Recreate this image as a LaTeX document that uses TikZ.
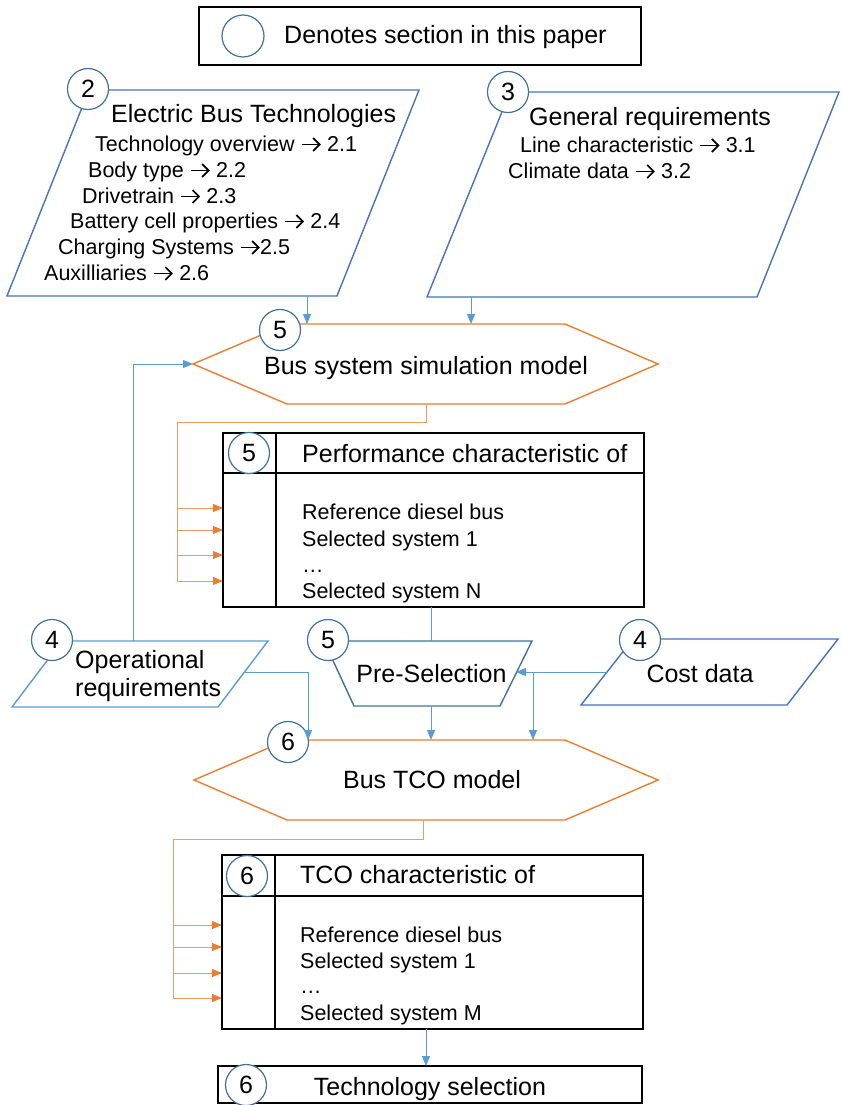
\documentclass[tikz,border=0pt]{standalone}
\usepackage{fontspec}
\setmainfont{Liberation Sans}
\usetikzlibrary{arrows.meta}
\definecolor{cOr}{HTML}{ED7D31}
\definecolor{cOrL}{HTML}{F29A60}
\definecolor{cBlue}{HTML}{4472C4}
\definecolor{cLBlue}{HTML}{5B9BD5}
\definecolor{cCirc}{HTML}{41719C}
\newcommand{\fsA}{\fontsize{25}{30}\selectfont}
\newcommand{\fsB}{\fontsize{21.5}{26}\selectfont}
\newcommand{\rarr}{\tikz[x=1pt,y=1pt,baseline=0pt]{\path (0,0) rectangle (20,13);\draw[line width=1.7pt] (0.5,6.5)--(18,6.5);\draw[line width=1.7pt,line join=miter,line cap=butt] (12,13)--(18.5,6.5)--(12,0);}}
\begin{document}
\begin{tikzpicture}[x=1pt,y=-1pt,
  secnum/.style={circle,draw=cCirc,fill=white,line width=1.2pt,minimum size=41pt,inner sep=0pt,font=\fsA},
  big/.style={inner sep=0pt,anchor=base west,font=\fsA},
  bigc/.style={inner sep=0pt,anchor=base,font=\fsA},
  small/.style={inner sep=0pt,anchor=base west,font=\fsB},
  shapeB/.style={draw=cBlue,line width=1.4pt,line join=miter},
  shapeL/.style={draw=cLBlue,line width=1.4pt,line join=miter},
  shapeD/.style={draw=cCirc,line width=1.4pt,line join=miter},
  hexo/.style={draw=cOr,line width=1.4pt,line join=miter},
  conn/.style={draw=cLBlue,line width=1pt,-{Triangle[length=10pt,width=8pt]}},
  plainconn/.style={draw=cLBlue,line width=1pt},
  oline/.style={draw=cOrL,line width=1pt},
  oarr/.style={draw=cOrL,line width=1pt,-{Triangle[length=10pt,width=8pt,color=cOr,fill=cOr]}},
  boxb/.style={draw=black,line width=1.3pt,inner sep=0pt}
]
\useasboundingbox (0,0) rectangle (842,1105);

% legend
\node[boxb,minimum width=442pt,minimum height=58pt] (legend) at (420,36) {};
\node[secnum,minimum size=42pt] (legcirc) at (243,36) {};
\node[big] (legtext) at (284,44) {Denotes section in this paper};

% Electric bus technologies
\draw[shapeB] (89,90) -- (419,90) -- (337,296) -- (7,296) -- cycle;
\coordinate (ebtout) at (307,296);
\node[big] (ebt0) at (111,123) {Electric Bus Technologies};
\node[small] (ebt1) at (95,151) {Technology overview \rarr{} 2.1};
\node[small] (ebt2) at (88,177) {Body type \rarr{} 2.2};
\node[small] (ebt3) at (82,203) {Drivetrain \rarr{} 2.3};
\node[small] (ebt4) at (70,228) {Battery cell properties \rarr{} 2.4};
\node[small] (ebt5) at (58,254) {Charging Systems \rarr{}2.5};
\node[small] (ebt6) at (44,280) {Auxilliaries \rarr{} 2.6};
\node[secnum] (s2) at (88,89) {2};

% General requirements
\draw[shapeB] (510,92) -- (839,92) -- (757,297) -- (427,297) -- cycle;
\coordinate (genout) at (471,297);
\node[big] (gen0) at (529,125) {General requirements};
\node[small] (gen1) at (520,152) {Line characteristic \rarr{} 3.1};
\node[small] (gen2) at (508,178) {Climate data \rarr{} 3.2};
\node[secnum] (s3) at (508,92) {3};

% Hexagon 1
\draw[hexo] (193,364) -- (287,324) -- (565,324) -- (658,364) -- (565,404) -- (287,404) -- cycle;
\coordinate (h1in1) at (307,324);
\coordinate (h1in2) at (471,324);
\coordinate (h1left) at (193,364);
\coordinate (h1out) at (426,404);
\node[bigc] (h1text) at (426,374) {Bus system simulation model};
\node[secnum] (s5a) at (280,330) {5};
\draw[conn] (ebtout) -- (h1in1);
\draw[conn] (genout) -- (h1in2);

% orange connector 1
\coordinate (o1a) at (177,422);
\coordinate (o1b) at (177,581);
\draw[oline] (h1out) |- (o1a) -- (o1b);
\foreach \y/\n in {508/1,530/2,555/3,581/4}{
  \coordinate (pin\n) at (223,\y);
  \draw[oarr] (o1a |- pin\n) -- (pin\n);
}

% Performance box
\node[boxb,minimum width=421pt,minimum height=174pt] (perf) at (433.5,520) {};
\draw[boxb] (223,473) -- (644,473);
\draw[boxb] (276,433) -- (276,607);
\node[secnum] (s5b) at (249,453) {5};
\node[big] (perfh) at (302,462) {Performance characteristic of};
\node[small] (perf1) at (302,519) {Reference diesel bus};
\node[small] (perf2) at (302,546) {Selected system 1};
\node[small] (perf3) at (302,572) {…};
\node[small] (perf4) at (302,598) {Selected system N};
\coordinate (perfout) at (431,607);

% Operational requirements
\draw[shapeL] (62,641) -- (268,641) -- (218,707) -- (12,707) -- cycle;
\node[big] (op1) at (75,668) {Operational};
\node[big] (op2) at (75,696) {requirements};
\node[secnum] (s4a) at (52,640) {4};
\coordinate (optop) at (133,641);
\coordinate (opright) at (245,672);
\draw[conn] (optop) |- (h1left);

% Pre-Selection
\draw[shapeD] (324,641) -- (532,641) -- (500,706) -- (354,706) -- cycle;
\node[bigc] (pstext) at (431.5,682) {Pre-Selection};
\node[secnum] (s5c) at (328,640) {5};
\coordinate (psin) at (431,641);
\coordinate (psright) at (516,672);
\coordinate (psout) at (431,706);
\draw[plainconn] (perfout) -- (psin);

% Cost data
\draw[shapeB] (633,639) -- (838,639) -- (787,705) -- (581,705) -- cycle;
\node[bigc] (costtext) at (700,682) {Cost data};
\node[secnum] (s4b) at (640,640) {4};
\coordinate (costleft) at (607,672);
\coordinate (branch) at (533,672);

% Hexagon 2
\draw[hexo] (194,780) -- (287,740) -- (565,740) -- (658,780) -- (565,820) -- (287,820) -- cycle;
\coordinate (h2in1) at (308,740);
\coordinate (h2in2) at (431,740);
\coordinate (h2in3) at (533,740);
\coordinate (h2out) at (423,820);
\node[bigc] (h2text) at (432,788) {Bus TCO model};
\node[secnum] (s6a) at (288,742) {6};

\draw[conn] (costleft) -- (psright);
\draw[conn] (branch) -- (h2in3);
\draw[conn] (opright) -| (h2in1);
\draw[conn] (psout) -- (h2in2);

% orange connector 2
\coordinate (o2a) at (173,839);
\coordinate (o2b) at (173,998);
\draw[oline] (h2out) |- (o2a) -- (o2b);
\foreach \y/\n in {925/1,947/2,973/3,998/4}{
  \coordinate (qin\n) at (222,\y);
  \draw[oarr] (o2a |- qin\n) -- (qin\n);
}

% TCO box
\node[boxb,minimum width=421pt,minimum height=174pt] (tco) at (432.5,942) {};
\draw[boxb] (222,896) -- (643,896);
\draw[boxb] (275,855) -- (275,1029);
\node[secnum] (s6b) at (247,876) {6};
\node[big] (tcoh) at (300,883) {TCO characteristic of};
\node[small] (tco1) at (300,942) {Reference diesel bus};
\node[small] (tco2) at (300,968) {Selected system 1};
\node[small] (tco3) at (300,993) {…};
\node[small] (tco4) at (300,1020) {Selected system M};
\coordinate (tcoout) at (426,1029);

% Technology selection
\node[boxb,minimum width=424pt,minimum height=37pt] (tech) at (430,1084.5) {};
\coordinate (techin) at (426,1066);
\node[bigc] (techtext) at (430,1095) {Technology selection};
\node[secnum] (s6c) at (246,1085) {6};
\draw[conn] (tcoout) -- (techin);
\end{tikzpicture}
\end{document}
